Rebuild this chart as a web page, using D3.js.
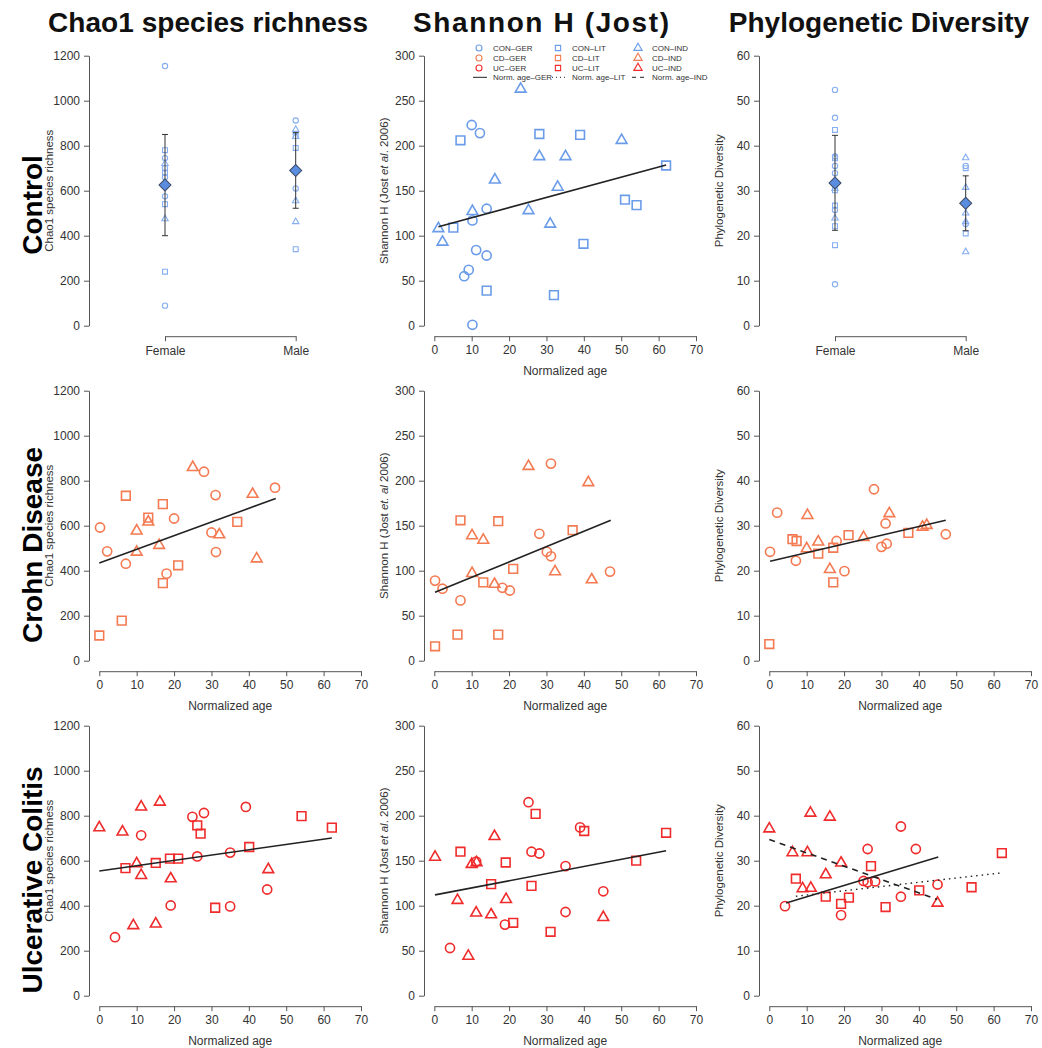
<!DOCTYPE html>
<html>
<head>
<meta charset="utf-8">
<script src="https://cdn.jsdelivr.net/npm/d3@7"></script>
<style>
  body { margin: 0; background: #fff; }
  svg { font-family: "Liberation Sans", Arial, sans-serif; }
</style>
</head>
<body>
<div id="chart"></div>
<script>
// ---- data ----
const columnTitles = ["Chao1 species richness", "Shannon H (Jost)", "Phylogenetic Diversity"];
const rowTitles = ["Control", "Crohn Disease", "Ulcerative Colitis"];
const groups = ["GER", "LIT", "IND"];
const sexes = ["Female", "Male"];
const ageTicks = [0, 10, 20, 30, 40, 50, 60, 70];
const chaoTicks = [0, 200, 400, 600, 800, 1000, 1200];
const shannonTicks = [0, 50, 100, 150, 200, 250, 300];
const pdTicks = [0, 10, 20, 30, 40, 50, 60];

// control, by sex (values per group)
const conChaoFemale = { GER: [1154, 745, 700, 660, 575, 89], LIT: [780, 680, 540, 240], IND: [720, 475] };
const conChaoMale = { GER: [912, 610], LIT: [843, 790, 340], IND: [872, 840, 555, 462] };
const conChaoMean = [625, 690];
const conChaoLow = [400, 522];
const conChaoHigh = [850, 858];

const conPdFemale = { GER: [52.4, 46.2, 37.6, 35.5, 33.9, 25.7, 9.2], LIT: [43.5, 37.2, 30.1, 26.7, 22.1, 17.9], IND: [23.9, 30.5] };
const conPdMale = { GER: [35.5, 22.6], LIT: [35, 20.5], IND: [37.3, 30.7, 25, 23.1, 16.4] };
const conPdMean = [31.7, 27.2];
const conPdLow = [21.2, 21.1];
const conPdHigh = [42.3, 33.3];

// [normalized age, value]
const conShannonGER = [[10,223],[12.2,214],[14,130],[10.2,117],[11.2,84],[14,78],[9.2,62],[8,55],[10.2,1]];
const conShannonLIT = [[7,206],[28.1,213],[39,212],[5.1,109],[62,178],[51,140],[54.1,134],[39.9,91],[14,39],[32,34]];
const conShannonIND = [[23.1,263],[50.1,206],[28.1,188],[35.1,188],[16.2,162],[33,154],[10.2,127],[25.2,128],[1.1,108],[31,113],[2.2,93]];
const conShannonFitGER = [[1.1,110],[62,178.5]];

const cdChaoGER = [[0.2,592],[2.1,486],[7.1,431],[18,387],[20,632],[28,840],[31.1,736],[30,570],[31.2,483],[47,769]];
const cdChaoLIT = [[0,112],[6,178],[7.1,733],[13.1,636],[17,696],[17,345],[21.1,424],[36.9,617]];
const cdChaoIND = [[25,859],[41,740],[10,577],[10,483],[13.1,617],[16,513],[32.1,560],[42.1,453]];
const cdChaoFitGER = [[0,434],[47.2,721]];

const cdShannonGER = [[0.2,89],[2.2,80],[7,67],[18.2,81],[20.2,78],[28.1,141],[30.1,121],[31.2,116],[31.2,219],[47,99]];
const cdShannonLIT = [[0.2,16],[6.2,29],[7,156],[13.1,87],[17.1,155],[17.1,29],[21.1,102],[37,145]];
const cdShannonIND = [[25.2,216],[41.2,198],[10.1,139],[13.1,134],[10.1,97],[16.1,85],[32.3,99],[42.1,90]];
const cdShannonFitGER = [[0.2,76],[47.2,156]];

const cdPdGER = [[0.2,24.2],[2.1,32.9],[7.1,22.2],[18,26.6],[20.1,19.9],[28,38.1],[30,25.3],[31.4,26],[31.1,30.5],[47.2,28.1]];
const cdPdLIT = [[0,3.7],[6.2,27],[7.3,26.6],[13.1,23.8],[17.1,25.1],[17.1,17.4],[21.2,27.9],[37.2,28.4]];
const cdPdIND = [[10.2,32.3],[32.1,32.7],[10,24.9],[13.1,26.4],[16.2,20.3],[25.2,27.4],[41,29.7],[42.1,30.1]];
const cdPdFitGER = [[0.2,22.1],[47.2,31.2]];

const ucChaoGER = [[4.2,260],[11.2,713],[19.1,401],[24.9,795],[28,812],[26.2,619],[35,636],[35,397],[39.2,839],[44.9,472]];
const ucChaoLIT = [[7,567],[15.1,590],[18.9,609],[21.1,609],[26.2,757],[27.1,720],[31,391],[40.1,661],[54.1,798],[62.2,747]];
const ucChaoIND = [[0,747],[6.2,728],[11.2,839],[16.2,861],[10,587],[11.2,535],[19.1,520],[9.1,312],[15.1,319],[45.2,561]];
const ucChaoFitGER = [[0,554],[62.2,701]];

const ucShannonGER = [[4.2,53],[25.2,215],[26,160],[28.1,158],[35.1,144],[35.1,93],[18.9,79],[39,187],[45.2,116],[11.2,149]];
const ucShannonLIT = [[7,160],[27.1,202],[40.1,183],[62,181],[19.1,148],[15.2,124],[26,122],[54,150],[21.1,81],[31.1,71]];
const ucShannonIND = [[0.2,154],[16.1,177],[10,146],[11.3,148],[6.2,106],[19.2,107],[11.2,92],[15.2,90],[45.2,87],[9.1,44]];
const ucShannonFitGER = [[0.2,112],[62,161]];

const ucPdGER = [[4.2,19.9],[25.2,25.5],[26.3,32.6],[26.3,25.2],[28.3,25.4],[35.2,37.6],[35.2,22],[39.2,32.6],[45,24.7],[19.2,17.9]];
const ucPdLIT = [[7.1,26],[15.1,22],[19.2,20.4],[21.3,21.8],[27.2,28.8],[31.1,19.7],[40.1,23.4],[54.1,24.1],[62.2,31.7]];
const ucPdIND = [[0,37.1],[11,40.6],[16.2,39.7],[6.2,31.8],[10.2,31.8],[19.2,29.5],[15.1,26.9],[8.9,23.8],[11.1,23.9],[45,20.6]];
const ucPdFitGER = [[4.5,20.6],[45.2,30.8]];
const ucPdFitLIT = [[7.1,22.1],[62.2,27.3]];
const ucPdFitIND = [[0,34.7],[44.9,21.4]];

// ---- layout ----
const W = 1042, H = 1048;
const colColors = { CON: "#6b9ce9", CD: "#f47a52", UC: "#f02b2b" };
const axisX = [89, 424, 759];
const rowTop = [55.7, 390.7, 725.7];
const plotH = 270, plotW = 261.7;
const axisCol = "#555", labCol = "#333";
const fontStack = "Liberation Sans, Arial, sans-serif";

const svg = d3.select("#chart").append("svg")
  .attr("width", W).attr("height", H);

const symbolType = { GER: d3.symbolCircle, LIT: d3.symbolSquare, IND: d3.symbolTriangle };
const bigSize = { GER: 66, LIT: 76, IND: 50 };
const smallSize = { GER: 22, LIT: 24, IND: 18 };
const dashFor = { GER: null, LIT: "1.5,4", IND: "6,5" };

function marker(g, grp, x, y, size, color, sw) {
  g.append("path")
    .attr("d", d3.symbol(symbolType[grp], size)())
    .attr("transform", "translate(" + x + "," + y + ")")
    .attr("fill", "none")
    .attr("stroke", color)
    .attr("stroke-width", sw);
}

function styleAxis(g) {
  g.select(".domain").attr("stroke", axisCol);
  g.selectAll(".tick line").attr("stroke", axisCol);
  g.selectAll(".tick text").attr("fill", labCol).style("font-size", "12px")
    .style("font-family", fontStack);
}

function yAxis(col, row, yScale, ticks) {
  const g = svg.append("g")
    .attr("transform", "translate(" + axisX[col] + ",0)")
    .call(d3.axisLeft(yScale).tickValues(ticks).tickFormat(d3.format("d"))
      .tickSize(5).tickPadding(4).tickSizeOuter(0));
  styleAxis(g);
}

function xAgeAxis(col, row, xScale) {
  const g = svg.append("g")
    .attr("transform", "translate(0," + (rowTop[row] + plotH + 10.5) + ")")
    .call(d3.axisBottom(xScale).tickValues(ageTicks).tickSize(5).tickPadding(4).tickSizeOuter(0));
  styleAxis(g);
  svg.append("text")
    .attr("x", (xScale.range()[0] + xScale.range()[1]) / 2)
    .attr("y", rowTop[row] + plotH + 49)
    .attr("text-anchor", "middle")
    .attr("fill", labCol)
    .style("font-size", "12px")
    .text("Normalized age");
}

function yTitle(col, row, parts) {
  const t = svg.append("text")
    .attr("transform", "translate(" + (axisX[col] - 36) + "," + (rowTop[row] + plotH / 2) + ") rotate(-90)")
    .attr("text-anchor", "middle")
    .attr("fill", labCol)
    .style("font-size", "11.5px");
  parts.forEach(p => {
    t.append("tspan").style("font-style", p[1] ? "italic" : "normal").text(p[0]);
  });
}

// ---- scatter panels ----
function scatterPanel(col, row, yMax, ticks, pts, fits, color, title) {
  const x = d3.scaleLinear().domain([0, 70]).range([axisX[col] + 10.3, axisX[col] + 10.3 + plotW]);
  const y = d3.scaleLinear().domain([0, yMax]).range([rowTop[row] + plotH, rowTop[row]]);
  yAxis(col, row, y, ticks);
  xAgeAxis(col, row, x);
  yTitle(col, row, title);
  const g = svg.append("g");
  groups.forEach(grp => {
    (pts[grp] || []).forEach(d => marker(g, grp, x(d[0]), y(d[1]), bigSize[grp], color, 1.6));
  });
  const line = d3.line().x(d => x(d[0])).y(d => y(d[1]));
  groups.forEach(grp => {
    if (!fits[grp]) return;
    g.append("path")
      .attr("d", line(fits[grp]))
      .attr("fill", "none")
      .attr("stroke", "#222")
      .attr("stroke-width", grp === "LIT" ? 1.4 : 1.6)
      .attr("stroke-dasharray", dashFor[grp]);
  });
}

// ---- sex panels ----
function sexPanel(col, row, yMax, ticks, female, male, mean, low, high, title) {
  const x = d3.scalePoint().domain(sexes).range([axisX[col] + 76, axisX[col] + 206.7]);
  const y = d3.scaleLinear().domain([0, yMax]).range([rowTop[row] + plotH, rowTop[row]]);
  yAxis(col, row, y, ticks);
  yTitle(col, row, title);
  const xa = svg.append("g")
    .attr("transform", "translate(0," + (rowTop[row] + plotH + 10.5) + ")")
    .call(d3.axisBottom(x).tickSize(5).tickPadding(5).tickSizeOuter(0));
  styleAxis(xa);

  const g = svg.append("g");
  [female, male].forEach((vals, i) => {
    groups.forEach(grp => {
      vals[grp].forEach(v => marker(g, grp, x(sexes[i]), y(v), smallSize[grp], "#86aef0", 1.1));
    });
  });
  sexes.forEach((s, i) => {
    const cx = x(s);
    g.append("line").attr("x1", cx).attr("x2", cx).attr("y1", y(low[i])).attr("y2", y(high[i]))
      .attr("stroke", "#333").attr("stroke-width", 1);
    [low[i], high[i]].forEach(v => g.append("line")
      .attr("x1", cx - 3).attr("x2", cx + 3).attr("y1", y(v)).attr("y2", y(v))
      .attr("stroke", "#333").attr("stroke-width", 1));
    g.append("path")
      .attr("d", d3.symbol(d3.symbolSquare, 72)())
      .attr("transform", "translate(" + cx + "," + y(mean[i]) + ") rotate(45)")
      .attr("fill", "#5a8de0")
      .attr("stroke", "#3d4a66")
      .attr("stroke-width", 1);
  });
}

const chaoTitle = [["Chao1 species richness", false]];
const pdTitle = [["Phylogenetic Diversity", false]];
const shTitleA = [["Shannon H (Jost ", false], ["et al", true], [". 2006)", false]];
const shTitleB = [["Shannon H (Jost ", false], ["et. al", true], [" 2006)", false]];

sexPanel(0, 0, 1200, chaoTicks, conChaoFemale, conChaoMale, conChaoMean, conChaoLow, conChaoHigh, chaoTitle);
scatterPanel(1, 0, 300, shannonTicks, { GER: conShannonGER, LIT: conShannonLIT, IND: conShannonIND },
  { GER: conShannonFitGER }, colColors.CON, shTitleA);
sexPanel(2, 0, 60, pdTicks, conPdFemale, conPdMale, conPdMean, conPdLow, conPdHigh, pdTitle);

scatterPanel(0, 1, 1200, chaoTicks, { GER: cdChaoGER, LIT: cdChaoLIT, IND: cdChaoIND }, { GER: cdChaoFitGER }, colColors.CD, chaoTitle);
scatterPanel(1, 1, 300, shannonTicks, { GER: cdShannonGER, LIT: cdShannonLIT, IND: cdShannonIND }, { GER: cdShannonFitGER }, colColors.CD, shTitleB);
scatterPanel(2, 1, 60, pdTicks, { GER: cdPdGER, LIT: cdPdLIT, IND: cdPdIND }, { GER: cdPdFitGER }, colColors.CD, pdTitle);

scatterPanel(0, 2, 1200, chaoTicks, { GER: ucChaoGER, LIT: ucChaoLIT, IND: ucChaoIND }, { GER: ucChaoFitGER }, colColors.UC, chaoTitle);
scatterPanel(1, 2, 300, shannonTicks, { GER: ucShannonGER, LIT: ucShannonLIT, IND: ucShannonIND }, { GER: ucShannonFitGER }, colColors.UC, shTitleA);
scatterPanel(2, 2, 60, pdTicks, { GER: ucPdGER, LIT: ucPdLIT, IND: ucPdIND },
  { GER: ucPdFitGER, LIT: ucPdFitLIT, IND: ucPdFitIND }, colColors.UC, pdTitle);

// ---- legend (inside the top middle panel) ----
const legend = svg.append("g");
const legCols = [479, 558, 638];
const legRows = [48, 58, 68, 77.3];
const legSets = ["CON", "CD", "UC"];
groups.forEach((grp, c) => {
  legSets.forEach((set, r) => {
    marker(legend, grp, legCols[c], legRows[r], grp === "IND" ? 30 : 28, colColors[set], 1.1);
    legend.append("text")
      .attr("x", legCols[c] + 14).attr("y", legRows[r] + 3)
      .attr("fill", labCol).style("font-size", "8px")
      .text(set + "\u2013" + grp);
  });
  legend.append("line")
    .attr("x1", legCols[c] - 6).attr("x2", legCols[c] + 8)
    .attr("y1", legRows[3]).attr("y2", legRows[3])
    .attr("stroke", "#222").attr("stroke-width", 1)
    .attr("stroke-dasharray", grp === "GER" ? null : (grp === "LIT" ? "1,3" : "4,4"));
  legend.append("text")
    .attr("x", legCols[c] + 14).attr("y", legRows[3] + 3)
    .attr("fill", labCol).style("font-size", "8px")
    .text("Norm. age\u2013" + grp);
});

// ---- titles ----
const colCenters = [208, 541, 879];
const colWidths = [320, 256, null];
columnTitles.forEach((t, i) => {
  const tt = svg.append("text")
    .attr("x", colCenters[i]).attr("y", 32)
    .attr("text-anchor", "middle")
    .style("font-size", "28px").style("font-weight", "bold")
    .attr("fill", "#111")
    .text(t);
  if (colWidths[i]) tt.attr("textLength", colWidths[i]).attr("lengthAdjust", "spacing");
});
const rowCenters = [205, 545, 880];
rowTitles.forEach((t, i) => {
  svg.append("text")
    .attr("transform", "translate(42," + rowCenters[i] + ") rotate(-90)")
    .attr("text-anchor", "middle")
    .style("font-size", "28px").style("font-weight", "bold")
    .attr("fill", "#000")
    .text(t);
});
</script>
</body>
</html>
